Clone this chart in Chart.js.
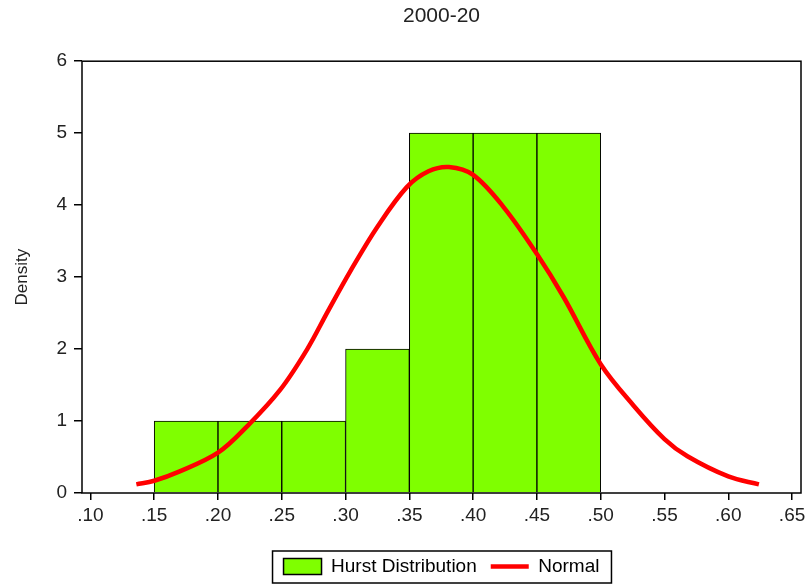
<!DOCTYPE html>
<html>
<head>
<meta charset="utf-8">
<title>2000-20</title>
<script src="https://cdn.jsdelivr.net/npm/chart.js@4.4.0/dist/chart.umd.min.js"></script>
<style>
    body { margin: 0; background: #fff; }
    #contentcontainer { width: 806px; height: 586px; }
</style>
</head>
<body>
<div id="contentcontainer"><canvas id="chartDisplay" width="806" height="586"></canvas></div>
<script>
"use strict";

// Histogram bins (left edge) and their density
var binStarts = [0.15, 0.20, 0.25, 0.30, 0.35, 0.40, 0.45];
var binWidth = 0.05;
var densities = [1, 1, 1, 2, 5, 5, 5];

// Normal curve
var normalX = [0.136, 0.150, 0.170, 0.200, 0.223, 0.249, 0.270, 0.286, 0.304, 0.325, 0.348, 0.365,
               0.381, 0.400, 0.424, 0.450, 0.471, 0.500, 0.526, 0.550, 0.568, 0.600, 0.624];
var normalY = [0.12, 0.17, 0.30, 0.56, 0.93, 1.44, 2.00, 2.52, 3.09, 3.70, 4.25, 4.47,
               4.53, 4.42, 3.97, 3.32, 2.72, 1.79, 1.21, 0.75, 0.51, 0.23, 0.12];

// Axis ticks
var xTicks = [0.10, 0.15, 0.20, 0.25, 0.30, 0.35, 0.40, 0.45, 0.50, 0.55, 0.60, 0.65];
var yTicks = [0, 1, 2, 3, 4, 5, 6];

var fontFamily = 'Arial, "Liberation Sans", sans-serif';
var textColour = '#222';

// Box round the plot region
var frameBox = {
    id: 'frameBox',
    afterDatasetsDraw: function (chart) {
        var a = chart.chartArea;
        var ctx = chart.ctx;
        ctx.save();
        ctx.strokeStyle = '#000';
        ctx.lineWidth = 1.5;
        ctx.strokeRect(a.left, a.top, a.right - a.left, a.bottom - a.top);
        ctx.restore();
    }
};

// Box round the legend items
var legendBox = {
    id: 'legendBox',
    afterDraw: function (chart) {
        var boxes = chart.legend.legendHitBoxes;
        if (!boxes || !boxes.length) return;
        var first = boxes[0], last = boxes[boxes.length - 1];
        var left = first.left - 11;
        var right = last.left + last.width + 12;
        var top = first.top - 6;
        var bottom = first.top + first.height + 7;
        var ctx = chart.ctx;
        ctx.save();
        ctx.strokeStyle = '#000';
        ctx.lineWidth = 1.5;
        ctx.strokeRect(left, top, right - left, bottom - top);
        ctx.restore();
    }
};

var histData = binStarts.map(function (s, i) {
    return { x: s + binWidth / 2, y: densities[i] };
});
var curveData = normalX.map(function (x, i) {
    return { x: x, y: normalY[i] };
});

var ctx1 = document.getElementById('chartDisplay').getContext('2d');
var chart1 = new Chart(ctx1, {
    type: 'bar',
    data: {
        datasets: [{
            type: 'bar',
            label: 'Hurst Distribution',
            data: histData,
            backgroundColor: '#7FFF00',
            borderColor: '#000',
            borderWidth: 1,
            barPercentage: 1.0,
            categoryPercentage: 1.0,
            order: 1
        }, {
            type: 'line',
            label: 'Normal',
            data: curveData,
            borderColor: '#FF0000',
            borderWidth: 4.5,
            pointRadius: 0,
            fill: false,
            tension: 0.35,
            order: 0
        }]
    },
    options: {
        responsive: false,
        animation: false,
        layout: { padding: { left: 0, right: 0, top: 0, bottom: 0 } },
        scales: {
            x: {
                type: 'linear',
                offset: false,
                min: 0.0934,
                max: 0.657,
                afterBuildTicks: function (scale) {
                    scale.ticks = xTicks.map(function (v) { return { value: v }; });
                },
                afterFit: function (scale) {
                    scale.height = 50;
                    scale.paddingRight = 5;
                },
                grid: { offset: false, drawOnChartArea: false, drawTicks: true, tickLength: 7, color: '#000', lineWidth: 1.5 },
                border: { display: false },
                ticks: {
                    autoSkip: false,
                    maxRotation: 0,
                    padding: 4,
                    color: textColour,
                    font: { family: fontFamily, size: 19 },
                    callback: function (v) { return v.toFixed(2).replace('0.', '.'); }
                }
            },
            y: {
                min: 0,
                max: 6,
                afterBuildTicks: function (scale) {
                    scale.ticks = yTicks.map(function (v) { return { value: v }; });
                },
                afterFit: function (scale) { scale.width = 82; },
                grid: { drawOnChartArea: false, drawTicks: true, tickLength: 8, color: '#000', lineWidth: 1.5 },
                border: { display: false },
                ticks: {
                    padding: 7,
                    color: textColour,
                    font: { family: fontFamily, size: 19 }
                },
                title: {
                    display: true,
                    text: 'Density',
                    color: textColour,
                    font: { family: fontFamily, size: 17 },
                    padding: { top: 12, bottom: 0 }
                }
            }
        },
        plugins: {
            title: {
                display: true,
                text: '2000-20',
                fullSize: false,
                color: textColour,
                font: { family: fontFamily, size: 21, weight: 'normal' },
                padding: { top: 4, bottom: 32 }
            },
            legend: {
                position: 'bottom',
                fullSize: false,
                labels: {
                    color: textColour,
                    font: { family: fontFamily, size: 19 },
                    usePointStyle: true,
                    pointStyleWidth: 38,
                    boxHeight: 16,
                    padding: 14,
                    generateLabels: function (chart) {
                        return [{
                            text: 'Hurst Distribution',
                            fillStyle: '#7FFF00',
                            strokeStyle: '#000',
                            lineWidth: 1.5,
                            pointStyle: 'rect',
                            datasetIndex: 0
                        }, {
                            text: 'Normal',
                            fillStyle: '#FF0000',
                            strokeStyle: '#FF0000',
                            lineWidth: 4.5,
                            pointStyle: 'line',
                            datasetIndex: 1
                        }];
                    }
                }
            },
            tooltip: { enabled: false }
        }
    },
    plugins: [frameBox, legendBox]
});
</script>
</body>
</html>
